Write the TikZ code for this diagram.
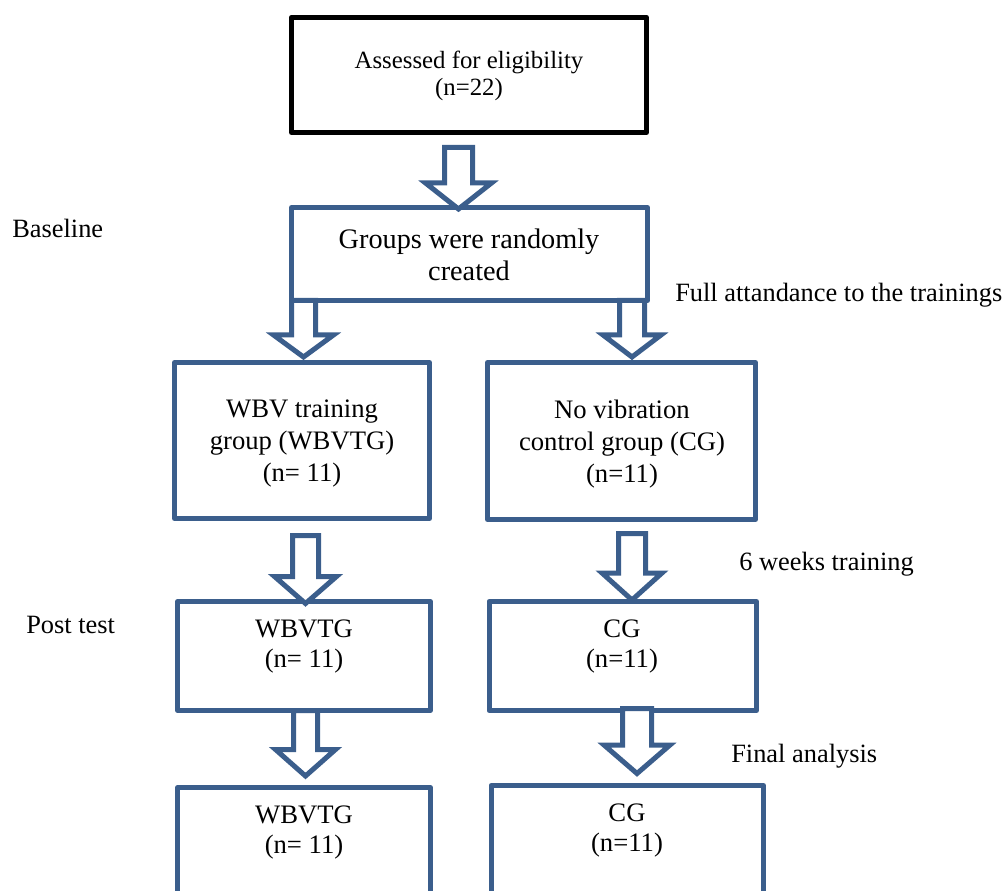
\documentclass[tikz,border=0pt]{standalone}
\usepackage{fontspec}
\setmainfont{Liberation Serif}
\usetikzlibrary{calc}
\definecolor{wblue}{RGB}{59,94,140}
\tikzset{
  shaft/.store in=\bshaft, head/.store in=\bhead, hlen/.store in=\bhlen,
  shaft=12, head=30, hlen=25,
  wh/.style 2 args={minimum width=#1*0.75pt, minimum height=#2*0.75pt},
  box/.style={draw=wblue, line width=3.75pt, rectangle, inner sep=0pt, outer sep=0pt, line join=round},
  blackbox/.style={box, draw=black, line width=3.9pt},
  btxt/.style={align=center, inner sep=0pt, font=\fontsize{20pt}{24pt}\selectfont},
  btxtsmall/.style={btxt, font=\fontsize{20pt}{22.5pt}\selectfont},
  btxttop/.style={btxt, font=\fontsize{18.6pt}{20.25pt}\selectfont},
  btxtgroups/.style={btxt, font=\fontsize{21.2pt}{24pt}\selectfont},
  sidelabel/.style={anchor=base west, inner sep=0pt, font=\fontsize{19.8pt}{24pt}\selectfont},
  barrow/.style={draw=wblue, line width=3.75pt, fill=white, line join=miter, miter limit=10,
    to path={let \p1=(\tikztostart), \p2=(\tikztotarget) in
      (\x1-\bshaft*0.75pt,\y1) -- (\x1-\bshaft*0.75pt,\y2+\bhlen*0.75pt)
      -- (\x1-\bhead*0.75pt,\y2+\bhlen*0.75pt) -- (\x1,\y2)
      -- (\x1+\bhead*0.75pt,\y2+\bhlen*0.75pt) -- (\x1+\bshaft*0.75pt,\y2+\bhlen*0.75pt)
      -- (\x1+\bshaft*0.75pt,\y1) -- cycle}}
}
\begin{document}
\begin{tikzpicture}[x=0.75pt,y=-0.75pt]
\useasboundingbox (0,0) rectangle (1007,891);
\begin{scope}
\clip (0,0) rectangle (1007,891);
% boxes
\node[blackbox, wh={355}{115}] (top) at (469,75) {};
\node[box, wh={356}{93}] (groups) at (469.5,254) {};
\node[box, wh={255}{156}] (wbv) at (302,440.5) {};
\node[box, wh={268}{157}] (novib) at (621.5,441) {};
\node[box, wh={252.5}{109}] (wbv2) at (304,656) {};
\node[box, wh={267.5}{109}] (cg2) at (622.75,656) {};
\node[box, wh={252.5}{162.5}] (wbv3) at (304,868.75) {};
\node[box, wh={272.5}{164.5}] (cg3) at (627.25,867.75) {};
% box texts
\node[btxttop] (t-top) at (469,75.5) {Assessed for eligibility\\(n=22)};
\node[btxtgroups] (t-groups) at (469,254.5) {Groups were randomly\\created};
\node[btxt] (t-wbv) at (302,443.5) {WBV training\\group (WBVTG)\\(n= 11)};
\node[btxt] (t-novib) at (622,444.5) {No vibration\\control group (CG)\\(n=11)};
\node[btxtsmall] (t-wbv2) at (304,646.5) {WBVTG\\(n= 11)};
\node[btxtsmall] (t-cg2) at (622,646.5) {CG\\(n=11)};
\node[btxtsmall] (t-wbv3) at (304,832.5) {WBVTG\\(n= 11)};
\node[btxtsmall] (t-cg3) at (627,831) {CG\\(n=11)};
% block arrows
\draw[barrow, shaft=14, head=33, hlen=26] ($(top.south)+(-10.5,15)$) to ($(groups.north)+(-10.5,1.5)$);
\draw[barrow, shaft=12, head=30, hlen=22] ($(groups.south)+(-166,0)$) to ($(wbv.north)+(1.5,-5.5)$);
\draw[barrow, shaft=12.5, head=29, hlen=22] ($(groups.south)+(162.5,0)$) to ($(novib.north)+(10.5,-5.5)$);
\draw[barrow, shaft=13, head=31, hlen=27] ($(wbv.south)+(3.5,17)$) to ($(wbv2.north)+(1.5,2)$);
\draw[barrow, shaft=13.5, head=30, hlen=27] ($(novib.south)+(10.5,14)$) to ($(cg2.north)+(9.25,-1.5)$);
\draw[barrow, shaft=12, head=30, hlen=26.5] ($(wbv2.south)+(1.5,0)$) to ($(wbv3.north)+(1.5,-11.5)$);
\draw[barrow, shaft=14.5, head=33, hlen=28.5] ($(cg2.south)+(14.25,-2)$) to ($(cg3.north)+(9.75,-12)$);
% side labels
\node[sidelabel] (l-base) at (12,238) {Baseline};
\node[sidelabel] (l-full) at (675,302) {Full attandance to the trainings};
\node[sidelabel] (l-six) at (739,570) {6 weeks training};
\node[sidelabel] (l-post) at (26,633) {Post test};
\node[sidelabel] (l-final) at (731,762) {Final analysis};
\end{scope}
\end{tikzpicture}
\end{document}
